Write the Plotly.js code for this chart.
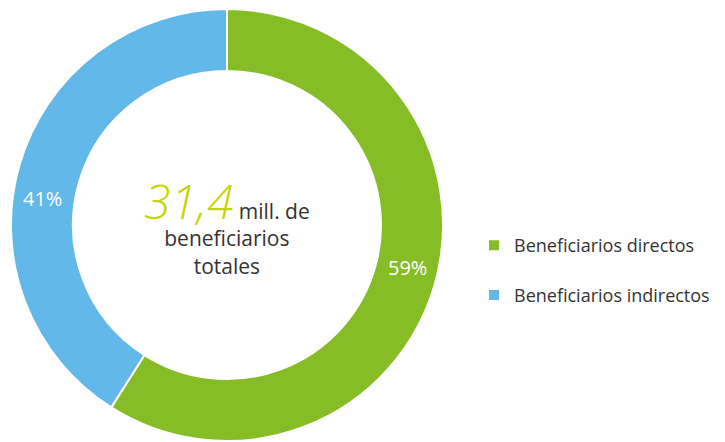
<!DOCTYPE html>
<html>
<head>
<meta charset="utf-8">
<script src="https://cdn.plot.ly/plotly-3.0.1.min.js"></script>
<style>html,body{margin:0;padding:0;background:#fff;}#chart{width:725px;height:442px;}</style>
</head>
<body>
<div id="chart"></div>
<script>
const categories = ["Beneficiarios directos", "Beneficiarios indirectos"];
const shares = [59, 41];
const sliceColors = ["#86BC25", "#62B8E8"];
const totalValue = "31,4";
const totalUnit = "mill. de";
const totalCaption = ["beneficiarios", "totales"];

// legend entries get an empty second line to reproduce the wide spacing
const legendLabels = categories.map(c => c + "<br>&nbsp;");

const trace = {
  type: "pie",
  labels: legendLabels,
  values: shares,
  hole: 0.713,
  sort: false,
  direction: "clockwise",
  rotation: 0,
  marker: { colors: sliceColors, line: { color: "#ffffff", width: 2 } },
  textinfo: "none",
  domain: { x: [11/725, 443/725], y: [1/442, 433/442] },
  hoverinfo: "label+percent"
};

const total = shares.reduce((a, b) => a + b, 0);
const pctText = shares.map(v => Math.round(v / total * 100) + "%");
const pctPos = [[407, 267], [42, 199]];

const annotations = pctText.map((t, i) => ({
  xref: "paper", yref: "paper", x: pctPos[i][0] / 725, y: 1 - pctPos[i][1] / 442,
  xanchor: "center", yanchor: "middle", showarrow: false, text: t,
  font: { family: "Open Sans", size: 20, color: "#ffffff" }
}));

const centerText =
  "<span style='font-size:48px;color:#C4D600;font-style:italic;font-weight:300'>" + totalValue + "</span> " +
  totalUnit + "<br>" + totalCaption.join("<br>");

annotations.push({
  xref: "paper", yref: "paper", x: 227/725, y: 1 - 224/442,
  xanchor: "center", yanchor: "middle", showarrow: false,
  text: centerText, align: "center",
  font: { family: "Open Sans", size: 21, color: "#333333" }
});

const layout = {
  width: 725, height: 442,
  margin: { l: 0, r: 0, t: 0, b: 0 },
  paper_bgcolor: "#ffffff",
  showlegend: true,
  legend: {
    x: 474/725, xanchor: "left",
    y: 1 - 227/442, yanchor: "top",
    valign: "top",
    font: { family: "Open Sans", size: 18, color: "#333333" },
    traceorder: "normal"
  },
  annotations: annotations
};

Plotly.newPlot("chart", [trace], layout, { displayModeBar: false, staticPlot: true });
</script>
</body>
</html>
